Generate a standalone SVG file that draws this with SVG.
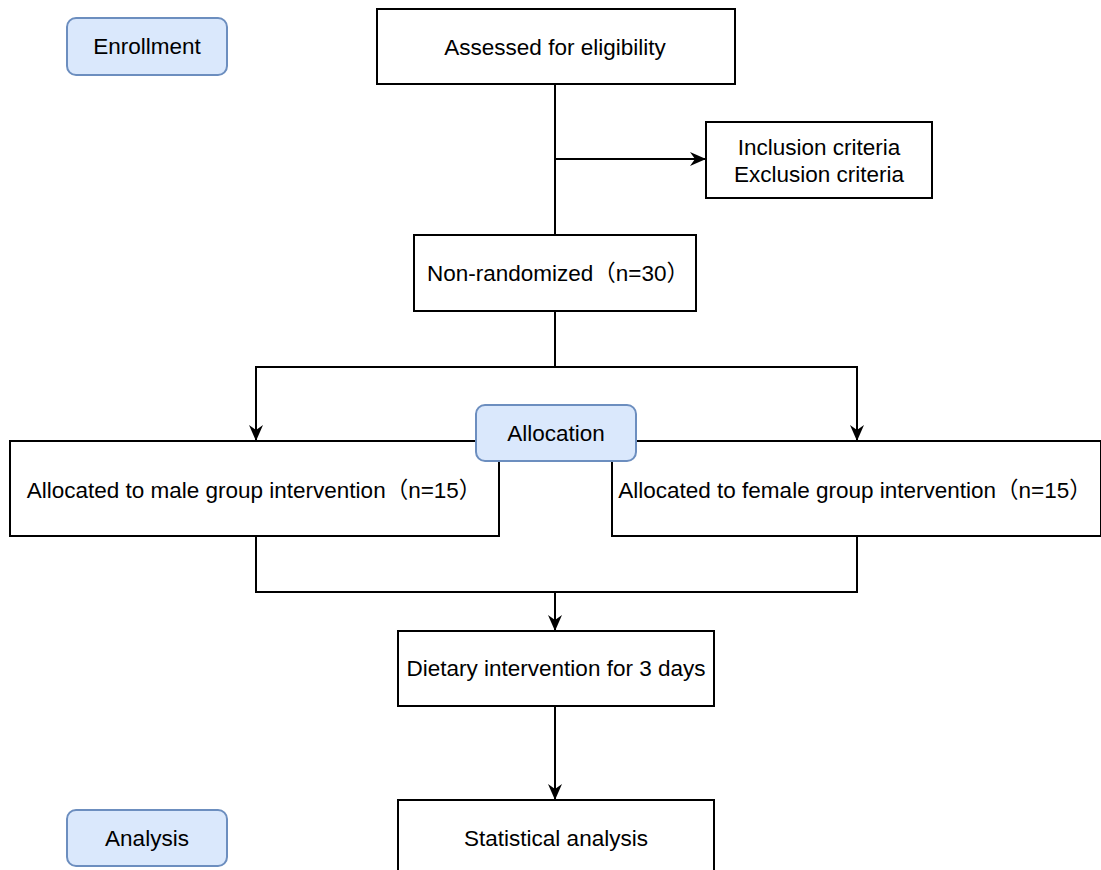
<svg xmlns="http://www.w3.org/2000/svg" width="1101" height="870" viewBox="0 0 1101 870">
<style>
.box{fill:#ffffff;stroke:#000000;stroke-width:2}
.lbl{fill:#dae8fc;stroke:#6c8ebf;stroke-width:2}
.t{font-family:"Liberation Sans","Noto Sans CJK SC",Arial,sans-serif;font-size:22.5px;fill:#000000;text-anchor:middle}
.c{fill:none;stroke:#000000;stroke-width:2}
</style>
<defs>
<marker id="arr" viewBox="0 0 16 14" refX="15" refY="7" markerWidth="16" markerHeight="14" markerUnits="userSpaceOnUse" orient="auto">
<path d="M0,0 L16,7 L0,14 L5,7 Z" fill="#000000"/>
</marker>
</defs>
<rect width="1101" height="870" fill="#ffffff"/>
<g id="connectors">
<path class="c" d="M555,84 V235"/>
<path class="c" d="M555,159 H705" marker-end="url(#arr)"/>
<path class="c" d="M555,311 V367 H256 V440" marker-end="url(#arr)"/>
<path class="c" d="M555,367 H857 V440" marker-end="url(#arr)"/>
<path class="c" d="M256,536 V592 H857 V536"/>
<path class="c" d="M555,592 V630" marker-end="url(#arr)"/>
<path class="c" d="M555,706 V799" marker-end="url(#arr)"/>
</g>
<g id="enrollment"><rect class="lbl" x="67" y="18" width="160" height="57" rx="9"/><text class="t" x="147" y="54">Enrollment</text></g>
<g id="assessed"><rect class="box" x="377" y="9" width="358" height="75"/><text class="t" x="555" y="55">Assessed for eligibility</text></g>
<g id="criteria"><rect class="box" x="706" y="122" width="226" height="76"/><text class="t" x="819" y="155">Inclusion criteria</text><text class="t" x="819" y="182">Exclusion criteria</text></g>
<g id="nonrandomized"><rect class="box" x="414" y="235" width="282" height="76"/><text class="t" x="558" y="281">Non-randomized（n=30）</text></g>
<g id="male"><rect class="box" x="10" y="441" width="489" height="95"/><text class="t" x="254" y="498">Allocated to male group intervention（n=15）</text></g>
<g id="female"><rect class="box" x="612" y="441" width="489" height="95"/><text class="t" x="855" y="498">Allocated to female group intervention（n=15）</text></g>
<g id="allocation"><rect class="lbl" x="476" y="405" width="160" height="56" rx="9"/><text class="t" x="556" y="441">Allocation</text></g>
<g id="dietary"><rect class="box" x="398" y="631" width="316" height="75"/><text class="t" x="556" y="676">Dietary intervention for 3 days</text></g>
<g id="statistical"><rect class="box" x="398" y="800" width="316" height="80"/><text class="t" x="556" y="846">Statistical analysis</text></g>
<g id="analysis"><rect class="lbl" x="67" y="810" width="160" height="56" rx="9"/><text class="t" x="147" y="846">Analysis</text></g>
</svg>
